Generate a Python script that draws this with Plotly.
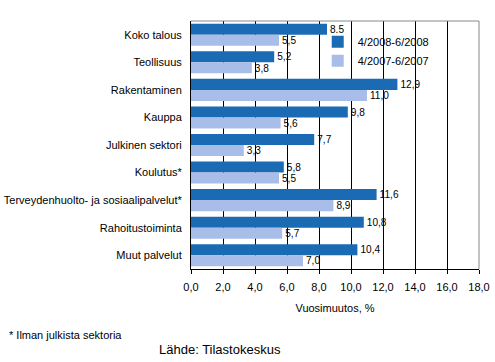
import plotly.graph_objects as go

categories = ["Koko talous", "Teollisuus", "Rakentaminen", "Kauppa", "Julkinen sektori",
              "Koulutus*", "Terveydenhuolto- ja sosiaalipalvelut*", "Rahoitustoiminta", "Muut palvelut"]
series_2008 = [8.5, 5.2, 12.9, 9.8, 7.7, 5.8, 11.6, 10.8, 10.4]
series_2007 = [5.5, 3.8, 11.0, 5.6, 3.3, 5.5, 8.9, 5.7, 7.0]
labels_2008 = ["8.5", "5,2", "12,9", "9,8", "7,7", "5,8", "11,6", "10,8", "10,4"]
labels_2007 = ["5,5", "3,8", "11,0", "5,6", "3,3", "5,5", "8,9", "5,7", "7,0"]
tick_vals = [0, 2, 4, 6, 8, 10, 12, 14, 16, 18]
tick_text = ["0,0", "2,0", "4,0", "6,0", "8,0", "10,0", "12,0", "14,0", "16,0", "18,0"]

dark = "#1b6ab4"
light = "#a9bde9"
font = "Liberation Sans, Arial, sans-serif"

fig = go.Figure()
fig.add_trace(go.Bar(y=categories, x=series_2008, orientation="h", name="4/2008-6/2008",
                     marker=dict(color=dark, line=dict(width=0)), text=labels_2008,
                     textposition="outside", cliponaxis=False,
                     textfont=dict(size=11, color="black", family=font)))
fig.add_trace(go.Bar(y=categories, x=series_2007, orientation="h", name="4/2007-6/2007",
                     marker=dict(color=light, line=dict(width=0)), text=labels_2007,
                     textposition="outside", cliponaxis=False,
                     textfont=dict(size=11, color="black", family=font)))

fig.update_layout(
    width=495, height=362,
    margin=dict(l=191, r=16, t=21, b=93, autoexpand=False),
    paper_bgcolor="white", plot_bgcolor="white",
    barmode="group", bargap=0.2, bargroupgap=0,
    font=dict(family=font, size=11, color="black"),
    showlegend=True,
    legend=dict(x=0.44, y=0.975, xanchor="left", yanchor="top", bgcolor="rgba(0,0,0,0)",
                font=dict(size=11), itemwidth=30, tracegroupgap=0, traceorder="normal"),
    xaxis=dict(range=[0, 18], tickvals=tick_vals, ticktext=tick_text,
               showgrid=True, gridcolor="black", gridwidth=1,
               showline=True, linecolor="black", linewidth=1,
               ticks="outside", ticklen=4, tickcolor="black", zeroline=False,
               tickfont=dict(size=11), automargin=False, ticklabelstandoff=4,
               title=dict(text="Vuosimuutos, %", font=dict(size=11), standoff=12)),
    yaxis=dict(autorange="reversed", showline=True, linecolor="black", linewidth=1,
               ticks="", showgrid=False, tickfont=dict(size=11), automargin=False,
               ticklabelstandoff=6),
)
fig.add_shape(type="line", xref="paper", yref="paper", x0=0, x1=1, y0=1, y1=1,
              line=dict(color="#888888", width=1))
fig.add_shape(type="line", xref="paper", yref="paper", x0=1, x1=1, y0=0, y1=1,
              line=dict(color="#888888", width=1))
fig.add_annotation(text="* Ilman julkista sektoria", xref="paper", yref="paper",
                   x=-184/288, y=-66/248, xanchor="left", yanchor="middle",
                   showarrow=False, font=dict(size=11))
fig.add_annotation(text="Lähde: Tilastokeskus", xref="paper", yref="paper",
                   x=-34/288, y=-80/248, xanchor="left", yanchor="middle",
                   showarrow=False, font=dict(size=13))
fig.write_html("out.html", config={"displayModeBar": False},
               post_script="document.body.style.margin='0';document.body.style.overflow='hidden';")
